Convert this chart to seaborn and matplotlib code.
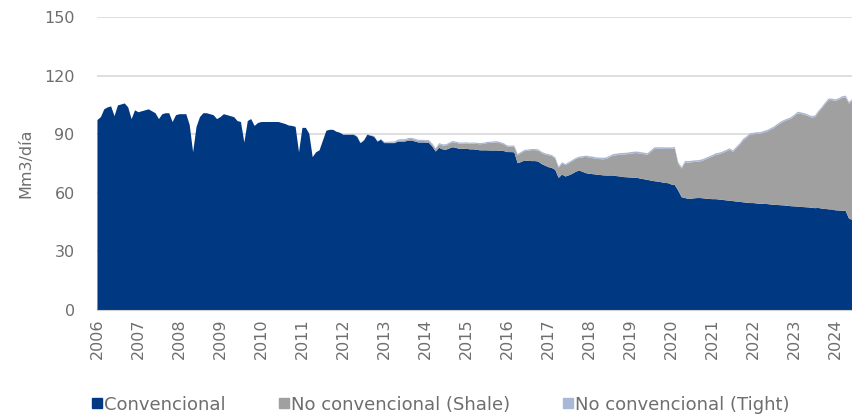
import numpy as np
import matplotlib
matplotlib.use("Agg")
import matplotlib.pyplot as plt
from matplotlib.lines import Line2D
import seaborn as sns

# monthly production, Mm3/dia, Jan 2006 - Jun 2024
convencional = [
    97.5, 99, 103, 104, 104.5, 99.5, 105, 105.5, 106, 104, 98, 102.5,          # 2006
    101.5, 102, 102.5, 103, 102, 101, 98, 100.5, 101, 101, 96.5, 100,          # 2007
    100.5, 100.5, 100.5, 95, 81, 94, 99, 101, 101, 100.5, 100, 98,             # 2008
    99, 100.5, 100, 99.5, 99, 97, 96.5, 86, 97, 98, 94.5, 96,                  # 2009
    96.5, 96.5, 96.5, 96.5, 96.5, 96.5, 96, 95.5, 94.7, 94.5, 94, 81,          # 2010
    93.5, 93.5, 90.5, 78.5, 81, 82, 87, 92, 92.5, 92.5, 91.5, 91,              # 2011
    90, 90, 90, 90, 89, 85.7, 87, 90, 89.5, 89, 86.5, 87.5,                    # 2012
    85.7, 85.7, 85.7, 85.7, 86.5, 86.5, 86.5, 87, 87, 86.5, 86, 86,            # 2013
    86, 85.8, 84, 81.4, 83.3, 82.5, 82.3, 83, 83.6, 83.2, 82.8, 82.8,          # 2014
    82.8, 82.5, 82.5, 82.3, 82, 82, 82, 81.9, 81.9, 81.9, 81.8, 81.6,          # 2015
    81.1, 81.1, 81, 75.4, 76, 76.8, 76.6, 76.5, 76.5, 76.3, 75, 74.2,          # 2016
    73.4, 73, 72, 67.9, 69.6, 68.6, 69.2, 70, 71, 71.7, 71, 70.3,              # 2017
    70, 69.8, 69.6, 69.4, 69.2, 69.1, 69.1, 69.1, 68.8, 68.6, 68.3, 68.2,      # 2018
    68.1, 68, 67.9, 67.5, 67.2, 66.9, 66.5, 66.2, 66, 65.7, 65.3, 65.2,        # 2019
    64.5, 64.2, 61.4, 58, 57.6, 57.1, 57.3, 57.5, 57.6, 57.5, 57.3, 57.1,      # 2020
    57, 57, 56.8, 56.6, 56.4, 56.2, 56, 55.8, 55.6, 55.4, 55.2, 55,            # 2021
    55, 54.8, 54.6, 54.6, 54.5, 54.3, 54.1, 54, 53.9, 53.8, 53.6, 53.4,        # 2022
    53.3, 53.2, 53, 52.9, 52.8, 52.6, 52.4, 52.5, 52.2, 52, 51.8, 51.7,        # 2023
    51.3, 51.2, 51.1, 51, 47, 46.4,                                            # 2024
]

shale = [0] * 84 + [
    0, 0.1, 0.2, 0.3, 0.5, 0.6, 0.6, 0.7, 0.8, 0.8, 0.8, 0.8,                  # 2013
    0.7, 0.9, 1.0, 1.1, 1.8, 2.0, 2.2, 2.4, 2.6, 2.6, 2.6, 2.6,                # 2014
    2.7, 2.8, 2.9, 3.0, 3.1, 3.3, 3.7, 3.9, 4.1, 4.2, 3.8, 3.4,                # 2015
    2.8, 2.7, 2.9, 4.1, 4.6, 4.8, 5.2, 5.6, 5.6, 5.6, 5.7, 5.7,                # 2016
    6.1, 6.0, 5.8, 5.2, 5.7, 5.8, 6.2, 6.5, 6.5, 6.5, 7.4, 8.4,                # 2017
    8.2, 8.2, 8.0, 8.1, 8.2, 8.5, 9.4, 10.2, 10.7, 11.2, 11.6, 11.8,           # 2018
    12.2, 12.5, 12.7, 12.8, 12.8, 12.8, 14.7, 16.5, 16.8, 17.1, 17.4, 17.5,    # 2019
    18.2, 18.7, 13.7, 14.6, 18.2, 18.6, 18.6, 18.6, 18.6, 19.1, 20.0, 21.0,    # 2020
    21.8, 22.7, 23.2, 24.0, 25.0, 26.0, 25.2, 27.2, 29.2, 31.7, 33.2, 35.0,    # 2021
    35.2, 35.7, 35.9, 36.5, 37.1, 38.2, 39.3, 40.7, 42.0, 43.0, 43.9, 44.8,    # 2022
    46.2, 47.8, 47.6, 47.3, 46.7, 46.2, 46.6, 48.9, 51.2, 53.7, 55.9, 56.0,    # 2023
    56.0, 56.7, 57.8, 58.2, 58.9, 61.2,                                        # 2024
]

tight = [0] * 72 + [0.3] * 12 + [0.6] * 60 + [0.8] * 78

years = list(range(2006, 2025))
series_names = ["Convencional", "No convencional (Shale)", "No convencional (Tight)"]
colors = ["#003882", "#a0a0a0", "#a9b8d6"]

# -----------------------------
# plot
# -----------------------------
sns.set_style("white")
plt.rcParams["font.family"] = ["DejaVu Sans"]

n = len(convencional)
t = 2006 + np.arange(n) / 12.0

fig = plt.figure(figsize=(8.52, 4.18), dpi=100)
ax = fig.add_axes([0.1138, 0.2584, 0.8862, 0.7009])

ax.stackplot(t, convencional, shale, tight, colors=colors, linewidth=0)

ax.set_xlim(t[0], t[-1])
ax.set_ylim(0, 150)
ax.set_yticks([0, 30, 60, 90, 120, 150])
ax.yaxis.grid(True, color="#d9d9d9", linewidth=1.2)
ax.set_axisbelow(True)

# monthly minor ticks, year labels vertical
ax.set_xticks(t, minor=True)
ax.set_xticks(years)
ax.set_xticklabels([str(y) for y in years], rotation=90)
ax.tick_params(axis="x", which="minor", length=4, color="#d0d0d0", width=0.6)
ax.tick_params(axis="x", which="major", length=0, pad=6, labelsize=11.5,
               labelcolor="#6e6e6e", labelrotation=90)
ax.tick_params(axis="y", length=0, pad=16, labelsize=11.5, colors="#6e6e6e")

for side in ["top", "right", "left"]:
    ax.spines[side].set_visible(False)
ax.spines["bottom"].set_color("#d0d0d0")

ax.set_ylabel("Mm3/día", fontsize=11.5, color="#6e6e6e", labelpad=8)

handles = [Line2D([], [], marker="s", linestyle="", markersize=7,
                  markerfacecolor=c, markeredgecolor=c) for c in colors]
fig.legend(handles, series_names, loc="center", bbox_to_anchor=(0.516, 0.032),
           ncol=3, frameon=False, fontsize=13, labelcolor="#6e6e6e",
           handletextpad=0.0, columnspacing=2.8, handlelength=0.8)

fig.savefig("out.png", dpi=100)
